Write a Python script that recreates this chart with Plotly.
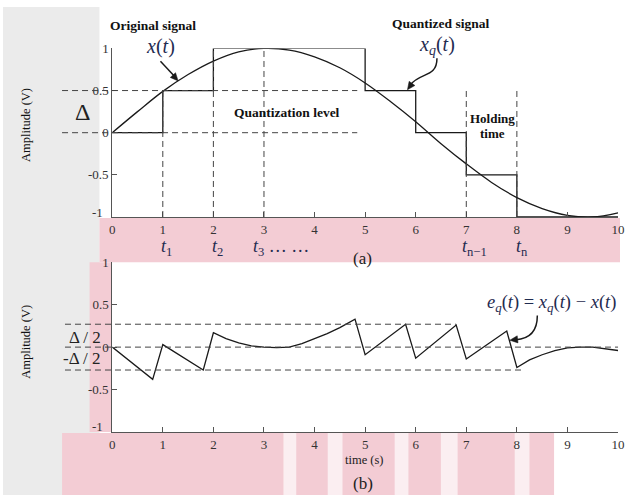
import math
import plotly.graph_objects as go

W, H = 627, 495

# ---------------- data ----------------
t_sig = [0, 0.5, 1, 1.5, 2, 2.5, 3, 3.5, 4, 4.5, 5, 5.5, 6, 6.5, 7, 7.5, 8, 8.5, 9, 9.5, 10]
x_sig = [0, 0.25, 0.49, 0.69, 0.85, 0.96, 1.0, 0.98, 0.90, 0.77, 0.59, 0.37, 0.13, -0.13,
         -0.37, -0.59, -0.77, -0.90, -0.98, -1.0, -0.95]

t_q = [0, 1, 2, 5, 6, 7, 8, 10]
x_q = [0, 0.5, 1, 0.5, 0, -0.5, -1, -1]

t_err = [0, 0.8, 1.0, 1.8, 2.0, 2.25, 2.5, 2.75, 3.0, 3.25, 3.5, 3.75, 4.0, 4.25, 4.5, 4.8,
         5.0, 5.8, 6.0, 6.8, 7.0, 7.8, 8.0, 8.25, 8.5, 8.75, 9.0, 9.25, 9.5, 9.75, 10]
e_err = [0, -0.38, 0.03, -0.27, 0.17, 0.10, 0.05, 0.015, 0.0, -0.005, 0.0, 0.04, 0.10, 0.16,
         0.23, 0.33, -0.09, 0.27, -0.13, 0.26, -0.14, 0.19, -0.24, -0.15, -0.09, -0.04,
         -0.01, 0.0, 0.0, -0.02, -0.04]

x_ticks = [0, 1, 2, 3, 4, 5, 6, 7, 8, 9, 10]
y_ticks = [1, 0.5, 0, -0.5]
y_ticktext = ["1", "0.5", "0", "-0.5"]

delta_half = 0.27

# --------------- helpers ---------------
def PX(px):
    return px / W


def PY(py):
    return 1 - py / H


SERIF = "Liberation Serif"
MATH = "#1f2b50"
AX = "#555555"
DASH = "6px,4px"

fig = go.Figure()

fig.add_trace(go.Scatter(x=t_sig, y=x_sig, mode="lines", line=dict(color="#1a1a1a", width=1.3, shape="spline"),
                         xaxis="x", yaxis="y", showlegend=False, hoverinfo="skip"))
fig.add_trace(go.Scatter(x=t_q, y=x_q, mode="lines", line=dict(color="#1a1a1a", width=1.3, shape="hv"),
                         xaxis="x", yaxis="y", showlegend=False, hoverinfo="skip"))
fig.add_trace(go.Scatter(x=t_err, y=e_err, mode="lines", line=dict(color="#1a1a1a", width=1.3),
                         xaxis="x2", yaxis="y2", showlegend=False, hoverinfo="skip"))

axis_common = dict(range=[0, 10], showgrid=False, zeroline=False, showline=True, linecolor=AX, linewidth=1,
                   ticks="inside", ticklen=5, tickcolor=AX, tickvals=x_ticks, ticklabeloverflow="allow",
                   tickfont=dict(family=SERIF, size=13, color="#333"), fixedrange=True)
yaxis_common = dict(range=[-1, 1], showgrid=False, zeroline=False, showline=True, linecolor=AX, linewidth=1,
                    ticks="inside", ticklen=5, tickcolor=AX, tickvals=y_ticks, ticktext=y_ticktext,
                    tickfont=dict(family=SERIF, size=13, color="#333"), fixedrange=True)

xd = [PX(111), PX(625)]
fig.update_layout(
    width=W, height=H, margin=dict(l=0, r=0, t=0, b=0),
    paper_bgcolor="white", plot_bgcolor="white",
    xaxis=dict(domain=xd, anchor="y", **axis_common),
    yaxis=dict(domain=[PY(213), PY(42)], anchor="x", **yaxis_common),
    xaxis2=dict(domain=xd, anchor="y2", **axis_common),
    yaxis2=dict(domain=[PY(431), PY(259)], anchor="x2", **yaxis_common),
)

shapes = []
# faint watermark-like background patches (outside the plot areas)
PINK = "#f3ccd4"
GREY = "#ebebeb"
shapes.append(dict(type="rect", xref="paper", yref="paper", x0=0, x1=PX(98), y0=0, y1=1,
                   fillcolor=GREY, line=dict(width=0), layer="below"))
shapes.append(dict(type="rect", xref="paper", yref="paper", x0=PX(98), x1=1, y0=PY(259), y1=PY(214),
                   fillcolor=PINK, line=dict(width=0), layer="below"))
shapes.append(dict(type="rect", xref="paper", yref="paper", x0=PX(88), x1=PX(110), y0=PY(431), y1=PY(259),
                   fillcolor=PINK, line=dict(width=0), layer="below"))
shapes.append(dict(type="rect", xref="paper", yref="paper", x0=PX(60), x1=PX(560), y0=0, y1=PY(432),
                   fillcolor=PINK, line=dict(width=0), layer="below"))
for a, b in [(285, 298), (330, 345), (398, 412), (445, 462), (520, 535)]:
    shapes.append(dict(type="rect", xref="paper", yref="paper", x0=PX(a), x1=PX(b), y0=0, y1=PY(432),
                       fillcolor="#fbeef1", line=dict(width=0), layer="below"))

dline = dict(color="#444", width=1, dash=DASH)
# top plot: quantization levels (extend left past axis)
for lvl in [0.5, 0]:
    shapes.append(dict(type="line", xref="paper", yref="y", x0=PX(60), x1=PX(360), y0=lvl, y1=lvl, line=dline))
# top plot: vertical sampling instants
for tx, ytop in [(1, 0.5), (2, 1), (3, 1), (7, 0.53), (8, 0.53)]:
    shapes.append(dict(type="line", xref="x", yref="y", x0=tx, x1=tx, y0=-1, y1=ytop, line=dline))
# bottom plot: +-delta/2 and zero
shapes.append(dict(type="line", xref="paper", yref="y2", x0=PX(63), x1=PX(111 + 6.8 * 51.4),
                   y0=delta_half, y1=delta_half, line=dline))
shapes.append(dict(type="line", xref="paper", yref="y2", x0=PX(63), x1=PX(625), y0=0, y1=0, line=dline))
shapes.append(dict(type="line", xref="paper", yref="y2", x0=PX(63), x1=PX(111 + 8.1 * 51.4),
                   y0=-delta_half, y1=-delta_half, line=dline))


def f(x, y):
    return f"{PX(x):.5f},{PY(y):.5f}"


def curve(pts):
    (x0, y0), (c1x, c1y), (c2x, c2y), (x1, y1) = pts
    return f"M {f(x0, y0)} C {f(c1x, c1y)} {f(c2x, c2y)} {f(x1, y1)}"


def head(hx, hy, tx, ty, L=8.0, w=3.6):
    dx, dy = hx - tx, hy - ty
    n = math.hypot(dx, dy)
    dx, dy = dx / n, dy / n
    bx, by = hx - L * dx, hy - L * dy
    return (f"M {f(hx, hy)} L {f(bx + w * -dy, by + w * dx)} L {f(bx - w * -dy, by - w * dx)} Z")


LINE = dict(color="#1a1a1a", width=1.5)
# straight arrow to x(t)
shapes.append(dict(type="line", xref="paper", yref="paper", x0=PX(160), y0=PY(55), x1=PX(174), y1=PY(70),
                   line=LINE))
shapes.append(dict(type="path", xref="paper", yref="paper", path=head(178, 75, 160, 55),
                   fillcolor="#1a1a1a", line=dict(color="#1a1a1a", width=0.5)))
# curved arrow to x_q(t)
shapes.append(dict(type="path", xref="paper", yref="paper",
                   path=curve([(441, 52), (441, 72), (424, 66), (414, 79)]), line=LINE))
shapes.append(dict(type="path", xref="paper", yref="paper", path=head(411, 84, 416, 77),
                   fillcolor="#1a1a1a", line=dict(color="#1a1a1a", width=0.5)))
# curved arrow to e_q(t)
shapes.append(dict(type="path", xref="paper", yref="paper",
                   path=curve([(543, 313), (543, 333), (530, 337), (521, 337.5)]), line=LINE))
shapes.append(dict(type="path", xref="paper", yref="paper", path=head(515, 338, 524, 337),
                   fillcolor="#1a1a1a", line=dict(color="#1a1a1a", width=0.5)))

fig.update_layout(shapes=shapes)

ann = []


def text(x, y, s, size=13, color="#111", bold=False, family=SERIF, xanchor="center", textangle=0):
    if bold:
        s = f"<b>{s}</b>"
    ann.append(dict(x=PX(x), y=PY(y), xref="paper", yref="paper", text=s, showarrow=False,
                    font=dict(family=family, size=size, color=color), xanchor=xanchor, yanchor="middle",
                    textangle=textangle))


text(152, 19, "Original signal", 13.5, bold=True)
text(160, 40, "<i>x</i>(<i>t</i>)", 20, color=MATH)
text(445, 17, "Quantized signal", 13.5, bold=True)
text(441, 39, "<i>x</i><sub><i>q</i></sub>(<i>t</i>)", 20, color=MATH)
text(289, 107, "Quantization level", 13.5, bold=True)
text(497, 113, "Holding", 13, bold=True)
text(497, 128, "time", 13, bold=True)
text(81, 107, "Δ", 24, color="#222")
text(24, 120, "Amplitude (V)", 12.5, textangle=-90)
text(24, 340, "Amplitude (V)", 12.5, textangle=-90)
text(104, 208, "-1", 13, color="#333", xanchor="right")
text(104, 426, "-1", 13, color="#333", xanchor="right")
text(83, 335, "Δ / 2", 17, color="#222")
text(80, 357, "-Δ / 2", 17, color="#222")
text(365, 255, "(a)", 17, color="#222")
text(366, 483, "(b)", 17, color="#222")
text(367, 459, "time (s)", 12.5, color="#222")

for lx, lbl in [(166, "<i>t</i><sub>1</sub>"), (218, "<i>t</i><sub>2</sub>"), (285, "<i>t</i><sub>3</sub> … … "),
                (479, "<i>t</i><sub>n−1</sub>"), (527, "<i>t</i><sub>n</sub>")]:
    text(lx, 244, lbl, 18, color=MATH)

text(625, 301, "<i>e</i><sub><i>q</i></sub>(<i>t</i>) = <i>x</i><sub><i>q</i></sub>(<i>t</i>) − <i>x</i>(<i>t</i>)",
     18.5, color=MATH, xanchor="right")

fig.update_layout(annotations=ann)
fig.write_html("out.html", config={"displayModeBar": False},
               post_script="document.body.style.margin='0';document.body.style.padding='0';"
                           "document.body.style.overflow='hidden';")
